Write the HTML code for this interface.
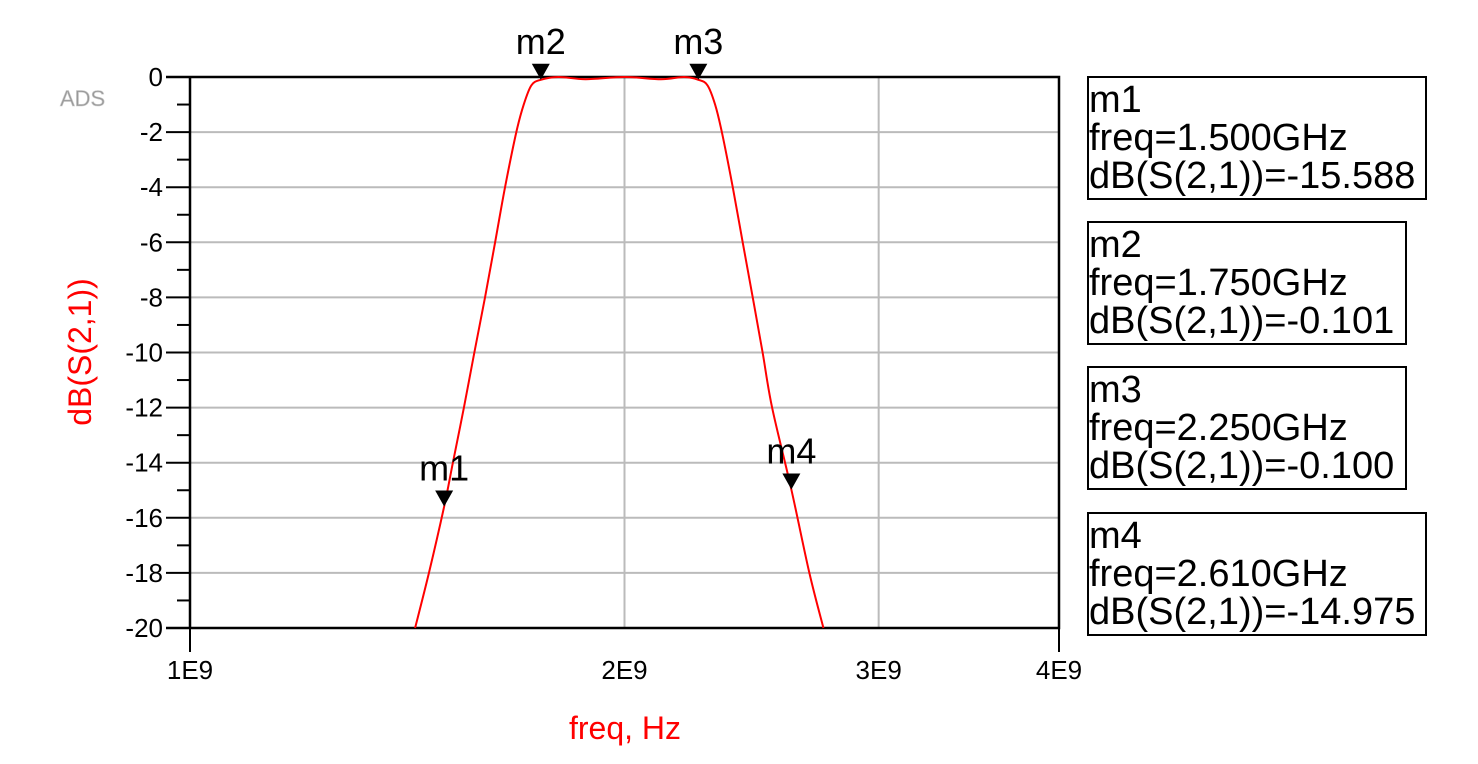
<!DOCTYPE html>
<html><head><meta charset="utf-8"><style>
body{margin:0;background:#fff;}
svg{display:block;font-family:"Liberation Sans",Arial,sans-serif;}
</style></head><body>
<svg id="chart" width="1478" height="764" viewBox="0 0 1478 764" xmlns="http://www.w3.org/2000/svg">
<text x="60" y="106" font-size="22" fill="#999" stroke="#ccc" stroke-width="0.6">ADS</text>
<g id="grid"></g>
<g id="axes"></g>
<path id="curve" fill="none" stroke="#ff0000" stroke-width="2"/>
<g id="markers"></g>
<text x="91" y="352" font-size="32" fill="#ff0000" text-anchor="middle" transform="rotate(-90 91 352)">dB(S(2,1))</text>
<text x="625" y="739" font-size="32" fill="#ff0000" text-anchor="middle">freq, Hz</text>
<g id="legend"></g>
</svg>
<script>
const freqs=[1.432,1.464,1.5,1.521,1.548,1.574,1.601,1.627,1.653,1.683,1.703,1.724,1.75,1.8,1.88,2.0,2.12,2.2,2.25,2.283,2.311,2.336,2.377,2.415,2.454,2.493,2.531,2.61,2.686,2.747];
const dbs=[-20,-18,-15.588,-14,-12,-10,-8,-6,-4,-2,-1,-0.3,-0.101,0,-0.08,0,-0.08,0,-0.1,-0.3,-1,-2,-4,-6,-8,-10,-12,-14.975,-18,-20];
const yTicks=[0,-2,-4,-6,-8,-10,-12,-14,-16,-18,-20];
const xTicks=[1e9,2e9,3e9,4e9];
const xTickLabels=["1E9","2E9","3E9","4E9"];
const markerNames=["m1","m2","m3","m4"];
const markerFreqs=[1.5,1.75,2.25,2.61];
const markerDb=[-15.588,-0.101,-0.100,-14.975];
const markerFreqText=["1.500","1.750","2.250","2.610"];
const markerDbText=["-15.588","-0.101","-0.100","-14.975"];
const L=190,R=1059,T=77,B=628;
const X=f=>L+(R-L)*Math.log10(f/1e9)/Math.log10(4);
const Y=d=>T+(B-T)*(0-d)/20;
const NS="http://www.w3.org/2000/svg";
function mk(tag,attrs,parent){const e=document.createElementNS(NS,tag);for(const k in attrs)e.setAttribute(k,attrs[k]);parent.appendChild(e);return e;}
const grid=document.getElementById('grid'),axes=document.getElementById('axes');
yTicks.forEach((v,i)=>{
 const y=Y(v);
 if(v!==0&&v!==-20){const g=mk('line',{x1:L,x2:R,y1:y,y2:y,stroke:'#bbb','stroke-width':2},grid);
 
 }
 const t=mk('line',{x1:166,x2:L,y1:y,y2:y,stroke:'#000','stroke-width':2},axes);
 
 
 const tx=mk('text',{x:163,y:y+9,'font-size':26,'text-anchor':'end'},axes);tx.textContent=v;
 
 
 if(i<yTicks.length-1){const ym=Y(v-1);const m=mk('line',{x1:177,x2:L,y1:ym,y2:ym,stroke:'#000','stroke-width':2},axes);
 
 }
});
xTicks.forEach((f,i)=>{
 const x=X(f);
 if(i>0&&i<xTicks.length-1){const g=mk('line',{x1:x,x2:x,y1:T,y2:B,stroke:'#bbb','stroke-width':2},grid);
 
 }
 if(i===0||i===xTicks.length-1){const t=mk('line',{x1:x,x2:x,y1:B,y2:652,stroke:'#000','stroke-width':2},axes);
 
 }
 const tx=mk('text',{x:x,y:679,'font-size':26,'text-anchor':'middle'},axes);tx.textContent=xTickLabels[i];
 
 
});
const fr=mk('path',{d:`M166 ${T}H${R}V${B}H166M${L} ${T}V${B}`,fill:'none',stroke:'#000','stroke-width':2.5},axes);


const pts=freqs.map((f,i)=>[X(f*1e9),Y(dbs[i])]);
let d=`M${pts[0][0]} ${pts[0][1]}`;
for(let i=0;i<pts.length-1;i++){const p0=pts[i-1]||pts[i],p1=pts[i],p2=pts[i+1],p3=pts[i+2]||p2;
 d+=`C${p1[0]+(p2[0]-p0[0])/6} ${p1[1]+(p2[1]-p0[1])/6} ${p2[0]-(p3[0]-p1[0])/6} ${p2[1]-(p3[1]-p1[1])/6} ${p2[0]} ${p2[1]}`;}
document.getElementById('curve').setAttribute('d',d);
const mg=document.getElementById('markers');
markerNames.forEach((n,i)=>{
 const x=X(markerFreqs[i]*1e9),y=Y(markerDb[i]);
 const tri=mk('path',{d:`M${x} ${y}L${x-9} ${y-16}L${x+9} ${y-16}Z`,fill:'#000'},mg);
 
 
 const t=mk('text',{x:x,y:y-26,'font-size':36,'text-anchor':'middle'},mg);t.textContent=n;
 
 
});
const lg=document.getElementById('legend');
const boxTops=[77,222,367,513],boxW=[338,318,318,338];
markerNames.forEach((n,i)=>{
 const g=mk('g',{},lg);
 
 
 mk('rect',{x:1088,y:boxTops[i],width:boxW[i],height:122,fill:'#fff',stroke:'#000','stroke-width':2},g);
 const lines=[n,'freq='+markerFreqText[i]+'GHz','dB(S(2,1))='+markerDbText[i]];
 lines.forEach((s,j)=>{const t=mk('text',{x:1089,y:boxTops[i]+35+j*38,'font-size':38},g);t.textContent=s;});
});
</script>
</body></html>
